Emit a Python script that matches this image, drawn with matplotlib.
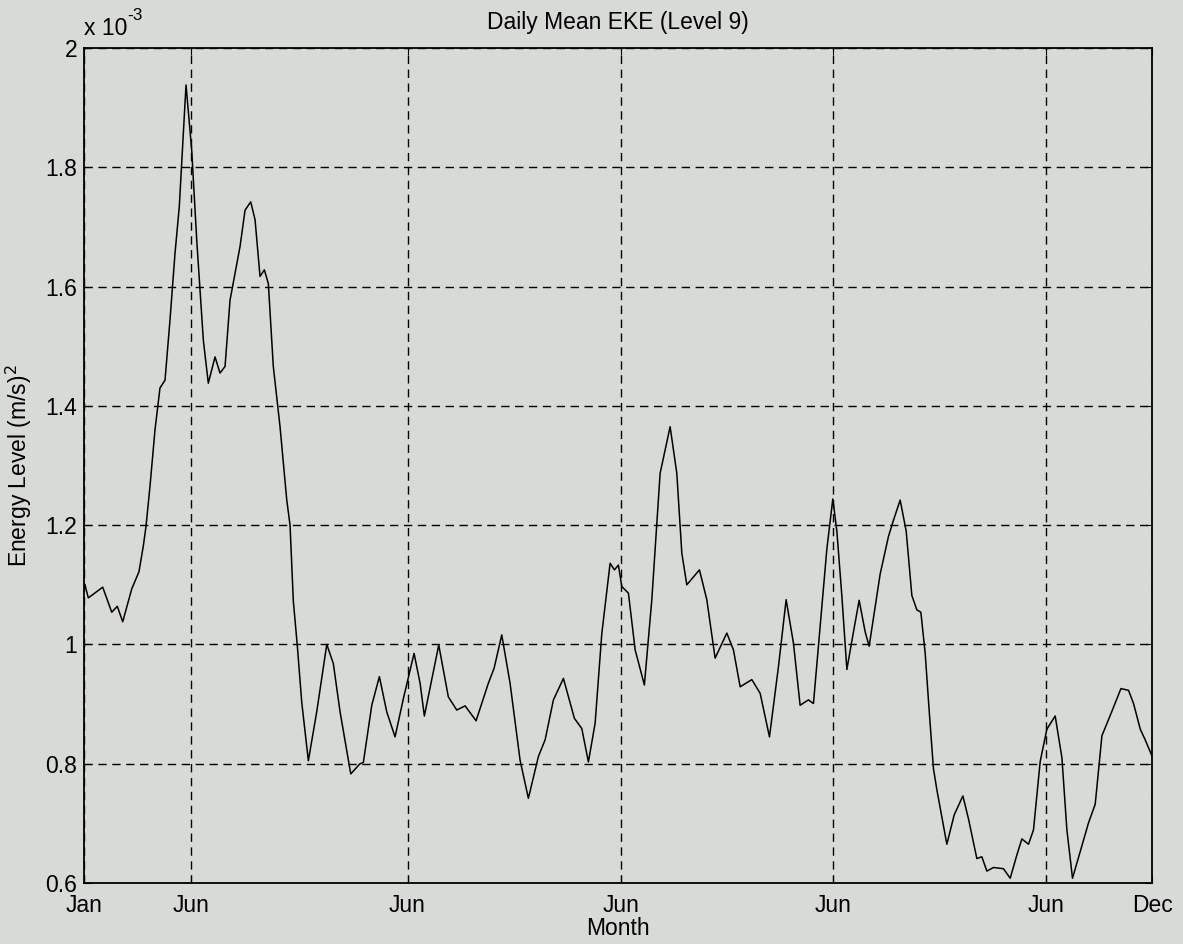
import matplotlib
matplotlib.use("Agg")
import matplotlib.pyplot as plt
from matplotlib.ticker import FuncFormatter

# dias desde el inicio y energia (x 1e-3)
dias = [1.7, 7.4, 32.0, 47.4, 56.9, 66.2, 81.6, 94.0, 101.4, 106.0, 112.8, 121.4,
        129.9, 138.5, 147.0, 155.6, 162.9, 174.4, 184.1, 192.7, 204.0, 212.5, 224.0,
        232.5, 241.1, 249.6, 266.7, 275.3, 285.0, 292.4, 300.9, 308.3, 315.1, 323.6,
        335.1, 346.6, 352.2, 357.8, 364.7, 372.2, 383.5, 397.8, 415.0, 426.2, 437.7,
        456.0, 471.9, 477.5, 491.9, 504.9, 517.5, 531.7, 545.9, 564.2, 574.5, 581.8,
        606.4, 622.8, 637.2, 651.4, 670.2, 691.2, 701.0, 714.1, 728.3, 745.4, 759.6,
        776.7, 788.2, 802.4, 819.5, 838.3, 850.9, 862.2, 873.7, 885.1, 899.3, 906.7,
        913.5, 919.3, 930.6, 942.1, 957.9, 970.6, 984.8, 1001.9, 1013.3, 1021.9,
        1030.4, 1052.0, 1064.6, 1078.8, 1098.8, 1110.1, 1121.6, 1141.6, 1155.8,
        1171.7, 1187.1, 1200.2, 1212.7, 1224.1, 1238.3, 1246.9, 1255.4, 1269.8,
        1280.0, 1286.9, 1295.4, 1304.0, 1315.3, 1325.0, 1335.3, 1342.1, 1360.9,
        1375.1, 1383.6, 1395.1, 1405.4, 1415.1, 1423.6, 1430.5, 1437.9, 1445.2,
        1452.0, 1457.9, 1474.9, 1487.4, 1502.3, 1511.8, 1526.2, 1534.7, 1543.3,
        1554.6, 1571.7, 1583.2, 1594.6, 1603.2, 1614.5, 1623.0, 1634.5, 1645.9,
        1660.1, 1671.6, 1680.1, 1689.7, 1702.9, 1717.1, 1728.5, 1740.0, 1757.1,
        1772.5, 1785.5, 1794.0, 1805.5, 1814.0, 1825.5]
eke = [1.100, 1.078, 1.096, 1.054, 1.064, 1.038, 1.093, 1.122, 1.165, 1.198, 1.265, 1.360,
       1.430, 1.443, 1.544, 1.656, 1.734, 1.938, 1.829, 1.678, 1.510, 1.438, 1.482,
       1.455, 1.466, 1.577, 1.667, 1.728, 1.742, 1.712, 1.617, 1.628, 1.605, 1.466,
       1.365, 1.242, 1.200, 1.073, 0.997, 0.903, 0.805, 0.887, 1.000, 0.968, 0.887,
       0.783, 0.800, 0.802, 0.898, 0.946, 0.887, 0.845, 0.909, 0.985, 0.935, 0.880,
       0.999, 0.912, 0.890, 0.897, 0.872, 0.935, 0.960, 1.016, 0.935, 0.806, 0.742,
       0.812, 0.840, 0.907, 0.943, 0.876, 0.859, 0.803, 0.868, 1.018, 1.136, 1.125,
       1.133, 1.097, 1.086, 0.991, 0.932, 1.075, 1.287, 1.365, 1.287, 1.153,
       1.100, 1.125, 1.075, 0.977, 1.019, 0.991, 0.929, 0.941, 0.918,
       0.845, 0.963, 1.075, 1.002, 0.898, 0.907, 0.901, 0.997, 1.160,
       1.244, 1.190, 1.082, 0.958, 1.021, 1.074, 1.021, 0.997, 1.118,
       1.181, 1.208, 1.242, 1.190, 1.082, 1.058, 1.054, 0.985, 0.882,
       0.792, 0.756, 0.665, 0.714, 0.746, 0.708, 0.641, 0.644, 0.620,
       0.626, 0.624, 0.608, 0.647, 0.674, 0.665, 0.689, 0.804, 0.858,
       0.880, 0.810, 0.689, 0.608, 0.653, 0.701, 0.732, 0.847, 0.888,
       0.926, 0.923, 0.901, 0.858, 0.840, 0.813]

pos_meses = [0, 183, 553, 918, 1280, 1644, 1826]
etiquetas_meses = ["Jan", "Jun", "Jun", "Jun", "Jun", "Jun", "Dec"]
yticks = [0.6, 0.8, 1.0, 1.2, 1.4, 1.6, 1.8, 2.0]

plt.rcParams['font.family'] = ['Liberation Sans', 'DejaVu Sans']
fondo = "#d8dad7"
fs = 16.5

fig = plt.figure(figsize=(11.83, 9.44), dpi=100, facecolor=fondo)
ax = fig.add_axes([0.071, 0.0646, 0.903, 0.8846])
ax.set_facecolor(fondo)

ax.plot(dias, eke, color="black", linewidth=1.1)

ax.set_xlim(0, 1826)
ax.set_ylim(0.6, 2.0)
ax.set_xticks(pos_meses)
ax.set_xticklabels(etiquetas_meses)
ax.set_yticks(yticks)
ax.yaxis.set_major_formatter(FuncFormatter(lambda v, p: "%g" % v))

ax.grid(True, color="black", linestyle=(0, (6, 4)), linewidth=1.0)
ax.tick_params(direction="in", length=5, width=0.8, labelsize=fs,
               top=True, right=True)
ax.tick_params(axis="x", pad=8)
ax.tick_params(axis="y", pad=5)
for s in ax.spines.values():
    s.set_linewidth(1.3)

ax.set_title("Daily Mean EKE (Level 9)", fontsize=fs, pad=14)
ax.set_xlabel("Month", fontsize=fs, labelpad=0)
ax.set_ylabel("Energy Level (m/s)$^2$", fontsize=fs, labelpad=8)

# factor de escala estilo matlab: "x 10" con el "-3" arriba
t = ax.text(0.0, 1.0156, "x 10", transform=ax.transAxes, fontsize=fs,
            ha="left", va="baseline")
ax.annotate("-3", xy=(1.0, 0.75), xycoords=t, fontsize=fs * 0.75,
            ha="left", va="bottom")

fig.savefig("out.png", dpi=100, facecolor=fondo)
